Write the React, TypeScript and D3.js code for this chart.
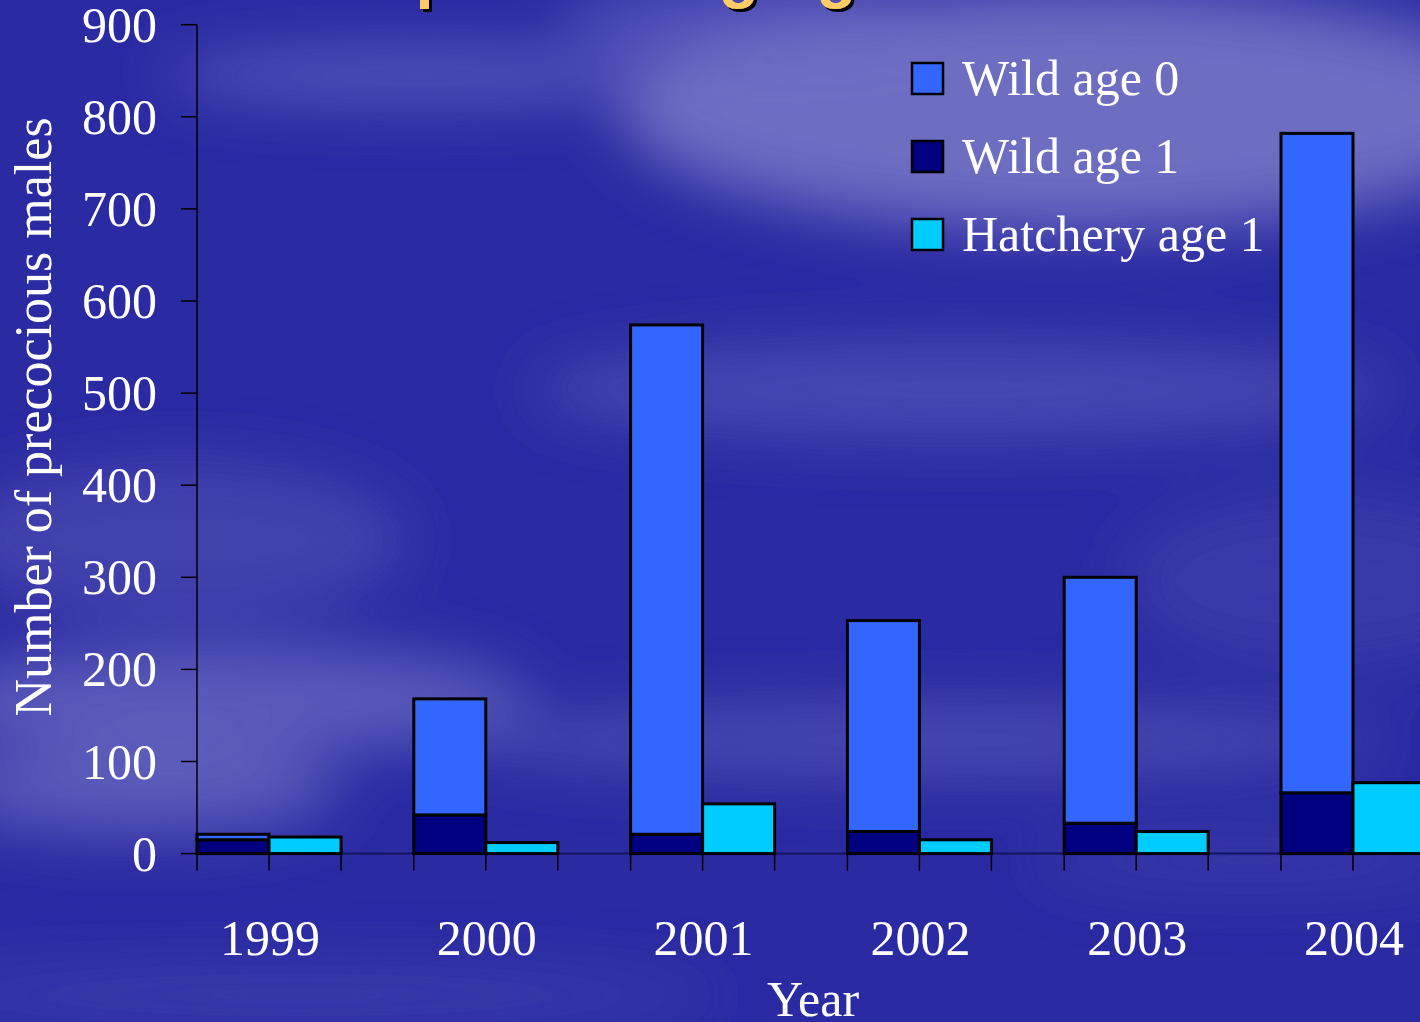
import React, { useRef, useEffect } from 'react';
import * as d3 from 'd3';

const years = ['1999', '2000', '2001', '2002', '2003', '2004'];
const wildAge1 = [15, 42, 21, 24, 33, 66];
const wildAge0 = [6, 126, 553, 229, 267, 716];
const hatcheryAge1 = [18, 12, 54, 15, 24, 77];
const yTicks = [0, 100, 200, 300, 400, 500, 600, 700, 800, 900];
const legendItems = [
  { label: 'Wild age 0', color: '#3366FF' },
  { label: 'Wild age 1', color: '#000080' },
  { label: 'Hatchery age 1', color: '#00CCFF' },
];

// soft cloud streaks for the slide background
const clouds = [
  { cx: 1080, cy: 110, rx: 460, ry: 120, c: '#8484cc', o: 0.75 },
  { cx: 420, cy: 75, rx: 260, ry: 28, c: '#6a6ac4', o: 0.7 },
  { cx: 760, cy: 20, rx: 200, ry: 40, c: '#6a6ac4', o: 0.6 },
  { cx: 960, cy: 390, rx: 430, ry: 50, c: '#5c5cbc', o: 0.6 },
  { cx: 180, cy: 540, rx: 230, ry: 80, c: '#5a5ab8', o: 0.5 },
  { cx: 230, cy: 700, rx: 300, ry: 55, c: '#7474c6', o: 0.65 },
  { cx: 920, cy: 740, rx: 460, ry: 38, c: '#6262bc', o: 0.55 },
  { cx: 140, cy: 790, rx: 200, ry: 45, c: '#7a7ac8', o: 0.6 },
  { cx: 300, cy: 995, rx: 420, ry: 28, c: '#4c4cb2', o: 0.55 },
  { cx: 1320, cy: 580, rx: 200, ry: 90, c: '#4a4ab2', o: 0.45 },
  { cx: 1250, cy: 860, rx: 220, ry: 30, c: '#4a4ab2', o: 0.45 },
];

const W = 1420;
const H = 1022;

const App = () => {
  const svgRef = useRef(null);

  useEffect(() => {
    document.body.style.margin = '0';
    const svg = d3.select(svgRef.current);
    svg.selectAll('*').remove();
    svg.attr('width', W).attr('height', H).style('display', 'block');

    const defs = svg.append('defs');
    defs.append('filter').attr('id', 'blur').attr('x', '-50%').attr('y', '-50%').attr('width', '200%').attr('height', '200%')
      .append('feGaussianBlur').attr('stdDeviation', 30);
    const sh = defs.append('filter').attr('id', 'tshadow');
    sh.append('feDropShadow').attr('dx', 3).attr('dy', 3).attr('stdDeviation', 0.5)
      .attr('flood-color', '#000').attr('flood-opacity', 1);

    // background
    svg.append('rect').attr('width', W).attr('height', H).attr('fill', '#2a2aa3');
    svg.append('g').attr('filter', 'url(#blur)')
      .selectAll('ellipse').data(clouds).join('ellipse')
      .attr('cx', d => d.cx).attr('cy', d => d.cy).attr('rx', d => d.rx).attr('ry', d => d.ry)
      .attr('fill', d => d.c).attr('opacity', d => d.o);

    // title (mostly off the top of the frame)
    svg.append('text')
      .attr('x', 271).attr('y', -4)
      .attr('font-family', '"Liberation Sans", Arial, sans-serif')
      .attr('font-weight', 'bold').attr('font-size', 65)
      .attr('fill', '#ffcc66').attr('filter', 'url(#tshadow)')
      .text('Comparative aging');

    const x0 = 197;
    const step = 216.8;
    const x = d3.scaleBand().domain(years).range([x0, x0 + step * years.length]).padding(0);
    const slot = 72;
    const y = d3.scaleLinear().domain([0, 900]).range([853.6, 24.7]);
    const serif = '"Liberation Serif", "Times New Roman", serif';

    const g = svg.append('g');

    // x axis baseline
    g.append('line').attr('x1', x0).attr('x2', W).attr('y1', y(0)).attr('y2', y(0))
      .attr('stroke', '#14145a').attr('stroke-width', 2);

    // x ticks at each slot boundary
    const slotEdges = years.flatMap(d => [x(d), x(d) + slot, x(d) + 2 * slot]);
    g.append('g').selectAll('line').data(slotEdges).join('line')
      .attr('x1', d => d).attr('x2', d => d).attr('y1', y(0)).attr('y2', y(0) + 17)
      .attr('stroke', '#000').attr('stroke-width', 1.5);

    // bars
    const bars = g.append('g').attr('stroke', '#000').attr('stroke-width', 3);
    bars.selectAll('.w1').data(years).join('rect').attr('class', 'w1')
      .attr('x', d => x(d)).attr('width', slot)
      .attr('y', (d, i) => y(wildAge1[i])).attr('height', (d, i) => y(0) - y(wildAge1[i]))
      .attr('fill', legendItems[1].color);
    bars.selectAll('.w0').data(years).join('rect').attr('class', 'w0')
      .attr('x', d => x(d)).attr('width', slot)
      .attr('y', (d, i) => y(wildAge1[i] + wildAge0[i]))
      .attr('height', (d, i) => y(wildAge1[i]) - y(wildAge1[i] + wildAge0[i]))
      .attr('fill', legendItems[0].color);
    bars.selectAll('.h1').data(years).join('rect').attr('class', 'h1')
      .attr('x', d => x(d) + slot).attr('width', slot)
      .attr('y', (d, i) => y(hatcheryAge1[i])).attr('height', (d, i) => y(0) - y(hatcheryAge1[i]))
      .attr('fill', legendItems[2].color);

    // y axis
    g.append('line').attr('x1', x0).attr('x2', x0).attr('y1', y(900)).attr('y2', y(0))
      .attr('stroke', '#000').attr('stroke-width', 1.5);
    g.append('g').selectAll('line').data(yTicks).join('line')
      .attr('x1', x0 - 16).attr('x2', x0).attr('y1', d => y(d)).attr('y2', d => y(d))
      .attr('stroke', '#000').attr('stroke-width', 1.5);
    g.append('g').selectAll('text').data(yTicks).join('text')
      .attr('x', 157).attr('y', d => y(d) + 17)
      .attr('text-anchor', 'end').attr('font-family', serif).attr('font-size', 50).attr('fill', '#fff')
      .text(d => d);

    // year labels
    g.append('g').selectAll('text').data(years).join('text')
      .attr('x', d => x(d) + slot + 1).attr('y', 955)
      .attr('text-anchor', 'middle').attr('font-family', serif).attr('font-size', 50).attr('fill', '#fff')
      .text(d => d);

    // axis titles
    g.append('text').attr('x', 813).attr('y', 1016).attr('text-anchor', 'middle')
      .attr('font-family', serif).attr('font-size', 50).attr('fill', '#fff').text('Year');
    g.append('text').attr('transform', 'translate(51,417) rotate(-90)').attr('text-anchor', 'middle')
      .attr('font-family', serif).attr('font-size', 52).attr('fill', '#fff').text('Number of precocious males');

    // legend
    const lg = g.append('g').attr('transform', 'translate(912,63)');
    const li = lg.selectAll('g').data(legendItems).join('g').attr('transform', (d, i) => `translate(0,${i * 78})`);
    li.append('rect').attr('width', 31).attr('height', 31).attr('fill', d => d.color)
      .attr('stroke', '#000').attr('stroke-width', 2.5);
    li.append('text').attr('x', 50).attr('y', 32).attr('font-family', serif).attr('font-size', 50)
      .attr('fill', '#fff').text(d => d.label);
  }, []);

  return <svg ref={svgRef}></svg>;
};

export default App;
